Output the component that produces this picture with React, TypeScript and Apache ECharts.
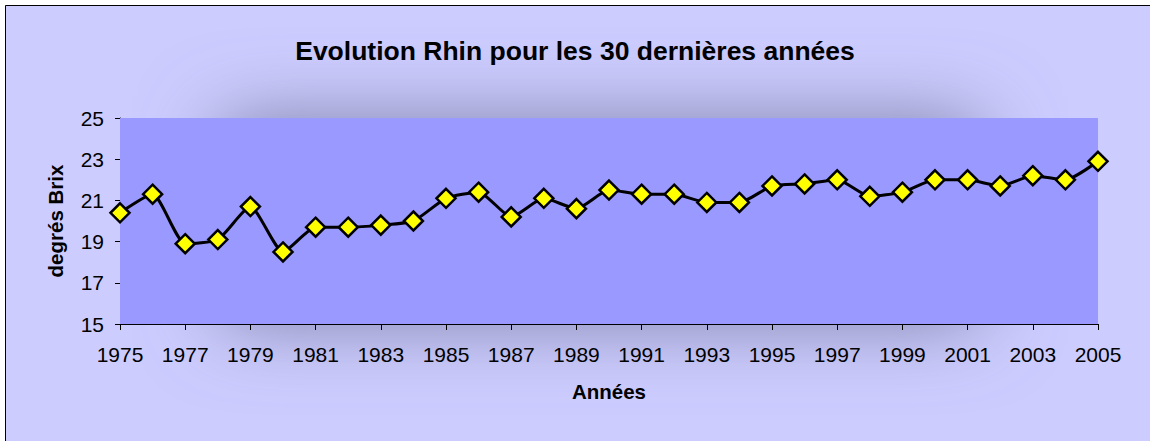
import React, { useEffect, useRef } from "react";
import * as echarts from "echarts";

const titleText = "Evolution Rhin pour les 30 dernières années";
const xAxisName = "Années";
const yAxisName = "degrés Brix";

const years = [
  "1975", "1976", "1977", "1978", "1979", "1980", "1981", "1982", "1983", "1984",
  "1985", "1986", "1987", "1988", "1989", "1990", "1991", "1992", "1993", "1994",
  "1995", "1996", "1997", "1998", "1999", "2000", "2001", "2002", "2003", "2004",
  "2005",
];

const brix = [
  20.4, 21.3, 18.9, 19.1, 20.7, 18.5, 19.7, 19.7, 19.8, 20.0,
  21.1, 21.4, 20.2, 21.1, 20.6, 21.5, 21.3, 21.3, 20.9, 20.9,
  21.7, 21.8, 22.0, 21.2, 21.4, 22.0, 22.0, 21.7, 22.2, 22.0,
  22.9,
];

const yMin = 15;
const yMax = 25;
const yStep = 2;

const FONT = "'Liberation Sans', Arial, sans-serif";

export default function App() {
  const ref = useRef<HTMLDivElement>(null);

  useEffect(() => {
    document.body.style.margin = "0";
    if (!ref.current) return;
    const chart = echarts.init(ref.current, undefined, { renderer: "svg" });
    chart.setOption({
      animation: false,
      backgroundColor: "#ffffff",
      title: {
        text: titleText,
        left: "center",
        top: 32,
        padding: [5, 5, 5, 27],
        textStyle: {
          fontFamily: FONT,
          fontSize: 26.5,
          fontWeight: "bold",
          color: "#000",
        },
      },
      graphic: [
        {
          type: "rect",
          z: -10,
          silent: true,
          shape: { x: 5.5, y: 5.5, width: 1160, height: 450 },
          style: { fill: "#CCCCFF", stroke: "#000", lineWidth: 1 },
        },
        {
          type: "rect",
          z: -5,
          silent: true,
          shape: { x: 220, y: 122, width: 760, height: 198 },
          style: {
            fill: "#9C9CC0",
            shadowBlur: 80,
            shadowColor: "rgba(125,125,165,1)",
          },
        },
      ],
      grid: {
        left: 120,
        right: 52,
        top: 118,
        bottom: 117,
        show: true,
        backgroundColor: "#9999FF",
        borderWidth: 0,
        z: 2,
      },
      xAxis: {
        type: "category",
        data: years,
        boundaryGap: false,
        name: xAxisName,
        nameLocation: "middle",
        nameGap: 57,
        nameTextStyle: {
          fontFamily: FONT,
          fontSize: 20.5,
          fontWeight: "bold",
          color: "#000",
        },
        axisLine: { show: true, lineStyle: { color: "#000", width: 1 } },
        axisTick: { show: true, interval: 1, length: 6, lineStyle: { color: "#000" } },
        axisLabel: {
          interval: 1,
          margin: 20,
          fontFamily: FONT,
          fontSize: 21,
          color: "#000",
        },
        splitLine: { show: false },
      },
      yAxis: {
        type: "value",
        min: yMin,
        max: yMax,
        interval: yStep,
        name: yAxisName,
        nameLocation: "middle",
        nameRotate: 90,
        nameGap: 54,
        nameTextStyle: {
          fontFamily: FONT,
          fontSize: 20.5,
          fontWeight: "bold",
          color: "#000",
        },
        axisLine: { show: true, lineStyle: { color: "#000", width: 1 } },
        axisTick: { show: true, length: 5, lineStyle: { color: "#000" } },
        axisLabel: {
          margin: 16,
          fontFamily: FONT,
          fontSize: 21,
          color: "#000",
        },
        splitLine: { show: true, lineStyle: { color: "#000", width: 1 } },
      },
      series: [
        {
          type: "line",
          data: brix,
          smooth: 0.2,
          symbol: "diamond",
          symbolSize: 19,
          lineStyle: { color: "#000", width: 3 },
          itemStyle: { color: "#FFFF00", borderColor: "#000", borderWidth: 2.5 },
          z: 5,
        },
      ],
    });
    return () => chart.dispose();
  }, []);

  return <div ref={ref} style={{ width: 1150, height: 441 }} />;
}
